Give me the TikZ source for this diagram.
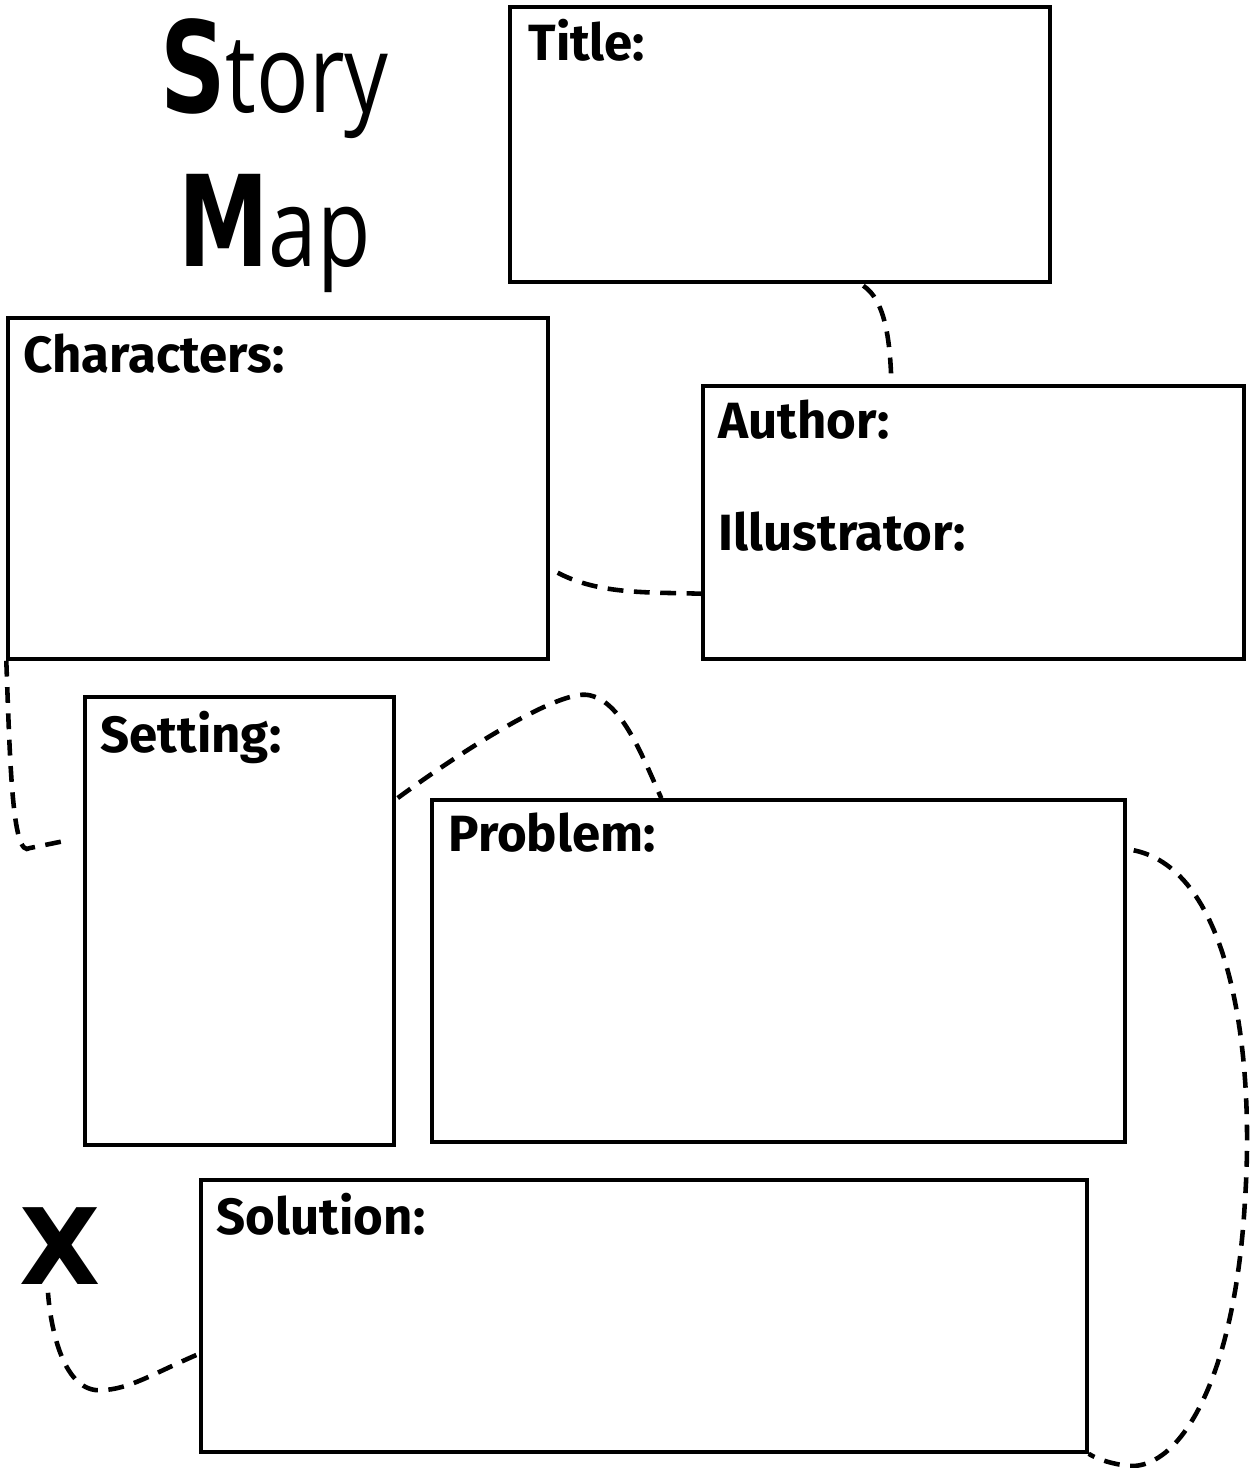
\documentclass[tikz,border=0pt]{standalone}
\usepackage{fontspec}
\setmainfont{Fira Sans}
\newfontfamily\headfont[FakeStretch=0.8]{Open Sans}
\newfontfamily\heavyfont[FakeStretch=0.72]{DejaVu Sans}
\newfontfamily\markfont{DejaVu Sans}
\usetikzlibrary{positioning,calc}
\tikzset{
    x=0.02cm,
    y=-0.02cm,
    box/.style = {
        draw,
        shape=rectangle,
        line width=2pt,
        inner sep=0pt
    },
    lbl/.style = {
        anchor=north west,
        inner sep=0pt,
        font=\bfseries\fontsize{29}{34}\selectfont
    },
    heading/.style = {
        anchor=base west,
        inner sep=0pt
    },
    trail/.style = {
        draw,
        line width=2.6pt,
        dash pattern=on 9pt off 6pt
    },
}

\begin{document}
\begin{tikzpicture}
            \useasboundingbox (0,0) rectangle (1257,1468);

            % heading
            \node[heading] (story) at (160,112)
            {{\fontsize{72}{80}\selectfont\heavyfont\bfseries S}{\fontsize{62}{70}\selectfont\headfont tory}};
            \node[heading] (map) at (178,266)
            {{\fontsize{72}{80}\selectfont\heavyfont\bfseries M}{\fontsize{62}{70}\selectfont\headfont ap}};

            % boxes
            \node[box, minimum width=10.8cm, minimum height=5.5cm] (title) at (780,144.5) {};
            \node[box, minimum width=10.8cm, minimum height=6.82cm] (chars) at (278,488.5) {};
            \node[box, minimum width=10.82cm, minimum height=5.46cm] (author) at (973.5,522.5) {};
            \node[box, minimum width=6.18cm, minimum height=8.96cm] (setting) at (239.5,921) {};
            \node[box, minimum width=13.86cm, minimum height=6.84cm] (problem) at (778.5,971) {};
            \node[box, minimum width=17.72cm, minimum height=5.44cm] (solution) at (644,1316) {};

            \node[lbl] (titlelbl) at ($(title.north west)+(20,14)$) {Title:};
            \node[lbl] (charslbl) at ($(chars.north west)+(17,17)$) {Characters:};
            \node[lbl] (authorlbl) at ($(author.north west)+(17,15)$) {Author:};
            \node[lbl] (illuslbl) at ($(author.north west)+(17,127)$) {Illustrator:};
            \node[lbl] (settinglbl) at ($(setting.north west)+(17,16)$) {Setting:};
            \node[lbl] (problemlbl) at ($(problem.north west)+(18,14)$) {Problem:};
            \node[lbl] (solutionlbl) at ($(solution.north west)+(17,15)$) {Solution:};

            \node[inner sep=0pt] (mark) at (60,1246)
            {\fontsize{60}{60}\selectfont\markfont\bfseries X};

            % dashed trail
            \path[trail] ($(title.south west)+(355,2)$) .. controls (885,300) and (890,340) ..
            ($(author.north west)+(190,-4)$);
            \path[trail] ($(chars.south east)+(8,-88)$) .. controls (600,595) and (650,592) ..
            ($(author.south west)+(0,-67)$);
            \path[trail] (chars.south west) .. controls (10,760) and (12,860) ..
            (30,848) -- ($(setting.west)+(-14,-81)$);
            \path[trail] ($(setting.east)+(2,-123)$) .. controls (470,745) and (560,690) ..
            (588,695) .. controls (620,700) and (640,750) .. ($(problem.north west)+(231,0)$);
            \path[trail] ($(problem.north east)+(7,52)$) .. controls (1230,870) and (1255,1050) ..
            (1245,1200) .. controls (1235,1380) and (1180,1468) .. (1130,1466)
            .. controls (1110,1464) and (1095,1458) .. (solution.south east);
            \path[trail] ($(solution.west)+(-3,39)$) .. controls (150,1375) and (125,1392) ..
            (95,1390) .. controls (60,1385) and (50,1320) .. ($(mark.south)+(-12,8)$);
        \end{tikzpicture}
\end{document}
